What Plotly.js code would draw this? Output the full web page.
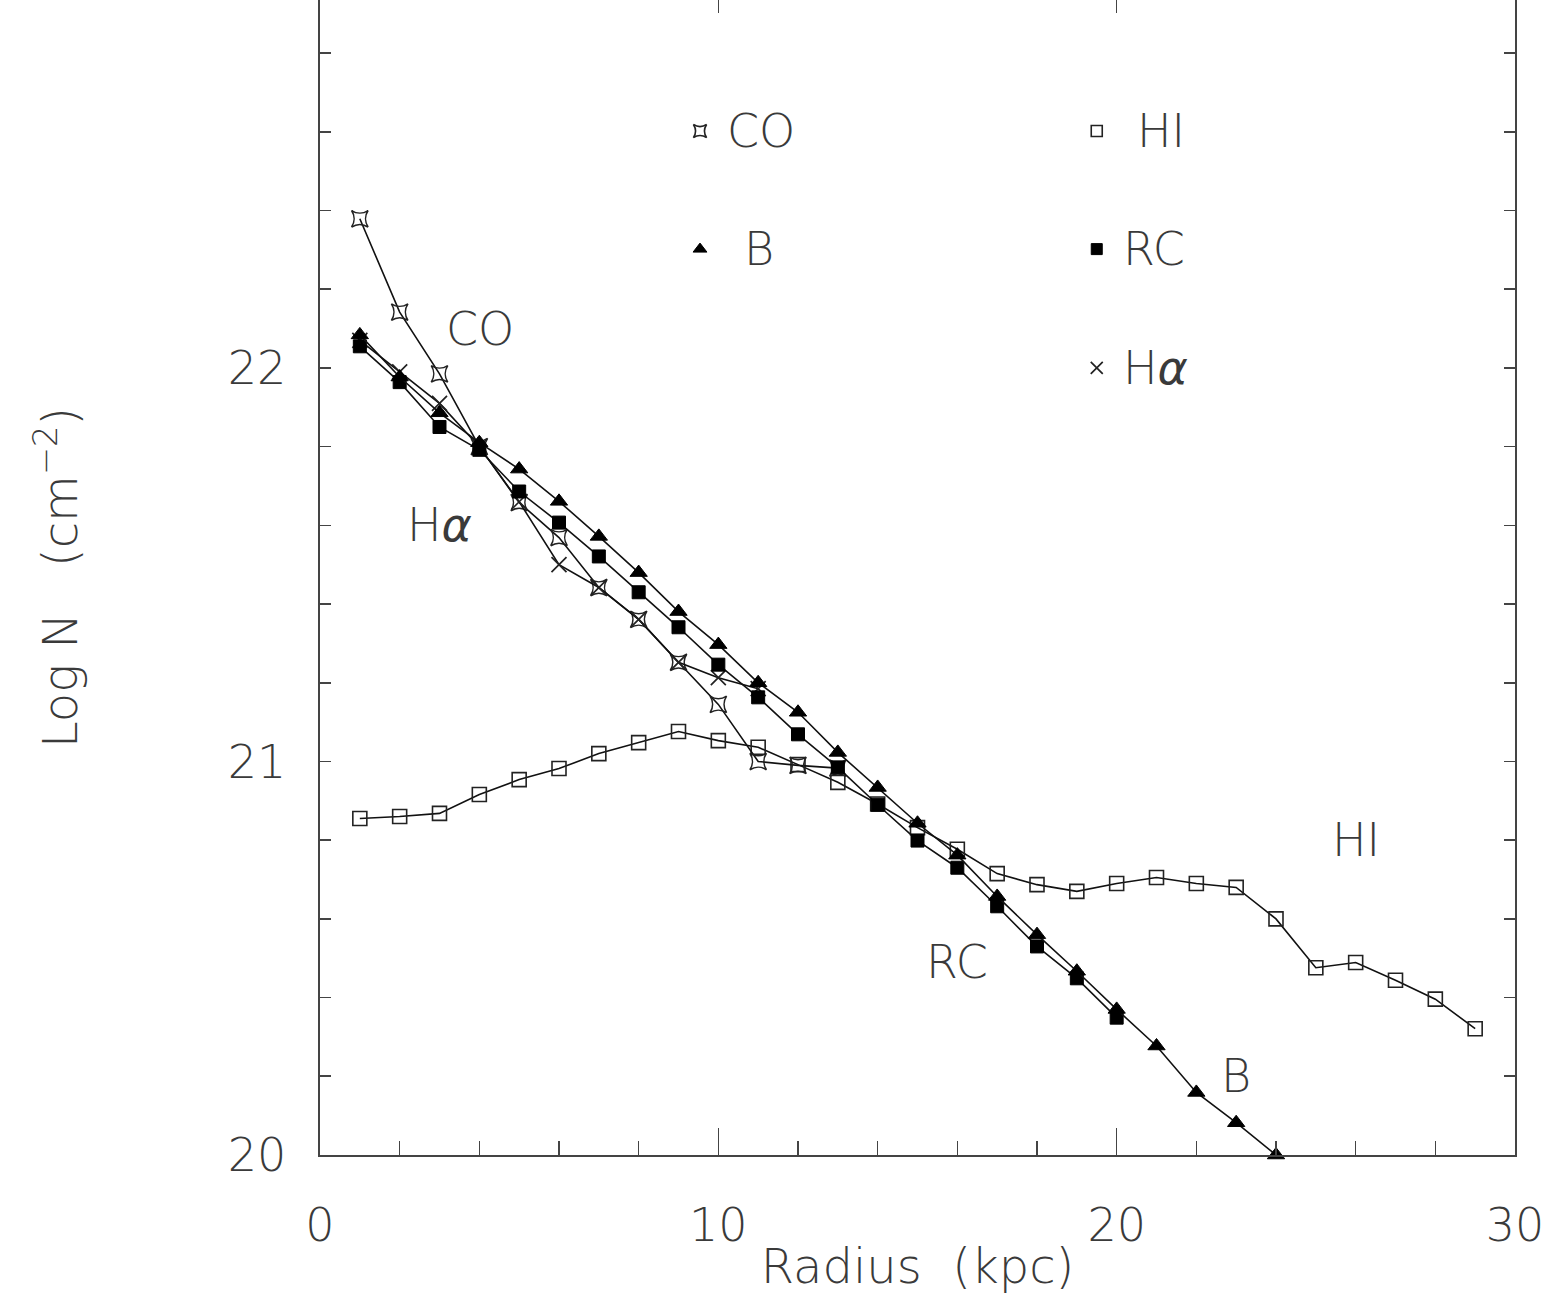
<!DOCTYPE html>
<html>
<head>
<meta charset="utf-8">
<script src="https://cdn.plot.ly/plotly-3.0.1.min.js"></script>
<style>html,body{margin:0;padding:0;background:#fff;}#chart{width:1550px;height:1294px;}</style>
</head>
<body>
<div id="chart"></div>
<script>
// ---- data ----
const radiusCO = [1,2,3,4,5,6,7,8,9,10,11,12,13];
const logNCO   = [22.379,22.142,21.985,21.800,21.658,21.569,21.442,21.361,21.252,21.145,21.000,20.990,20.983];

const radiusHa = [1,2,3,4,5,6,7,8,9,10,11];
const logNHa   = [22.070,21.990,21.910,21.800,21.660,21.500,21.442,21.361,21.252,21.213,21.185];

const radiusB = [1,2,3,4,5,6,7,8,9,10,11,12,13,14,15,16,17,18,19,20,21,22,23,24];
const logNB   = [22.084,21.977,21.886,21.810,21.743,21.661,21.572,21.480,21.381,21.297,21.200,21.125,21.023,20.934,20.843,20.762,20.657,20.560,20.467,20.370,20.277,20.159,20.082,20.000];

const radiusRC = [1,2,3,4,5,6,7,8,9,10,11,12,13,14,15,16,17,18,19,20];
const logNRC   = [22.055,21.964,21.850,21.792,21.686,21.607,21.521,21.430,21.341,21.246,21.163,21.069,20.985,20.890,20.799,20.730,20.632,20.530,20.449,20.349];

const radiusHI = [1,2,3,4,5,6,7,8,9,10,11,12,13,14,15,16,17,18,19,20,21,22,23,24,25,26,27,28,29];
const logNHI   = [20.855,20.860,20.868,20.916,20.954,20.982,21.020,21.048,21.076,21.053,21.036,20.992,20.947,20.892,20.832,20.777,20.715,20.687,20.670,20.690,20.705,20.690,20.680,20.600,20.476,20.489,20.444,20.396,20.321];

const seriesNames = ['CO','B','HI','RC','H<i>α</i>'];
const xTickVals = [0,10,20,30];
const yTickVals = [20,21,22];

// ---- styles / layout config ----
const FONT = {family:'DejaVu Sans, Liberation Sans, sans-serif', size:46, color:'#3a3a3a', weight:300};
const TITLEFONT = Object.assign({}, FONT, {size:48});
const lineStyle = {color:'#111', width:1.6};
const symbols = {
  CO:{symbol:'star-square-open', size:15, line:{color:'#222', width:1.6}},
  Ha:{symbol:'x-thin-open', size:15, line:{color:'#222', width:1.7}},
  B:{symbol:'triangle-up', size:15, color:'#000', line:{color:'#000', width:1}},
  RC:{symbol:'square', size:13, color:'#000', line:{color:'#000', width:1}},
  HI:{symbol:'square-open', size:14, color:'#222', line:{color:'#222', width:1.6}}
};
function withColor(m){ const o = Object.assign({}, m); if(!o.color) o.color = o.line.color; return o; }

function series(x, y, key){
  return {x:x, y:y, type:'scatter', mode:'lines+markers', line:lineStyle,
          marker:withColor(symbols[key]), showlegend:false, hoverinfo:'skip', cliponaxis:false};
}

const traces = [
  series(radiusHI, logNHI, 'HI'),
  series(radiusCO, logNCO, 'CO'),
  series(radiusHa, logNHa, 'Ha'),
  series(radiusRC, logNRC, 'RC'),
  series(radiusB,  logNB,  'B')
];

// legend keys (positions in data coordinates)
const legendCols = [9.54, 19.5];
const legendRows = [22.602, 22.302, 22.0];
const legendItems = [
  {key:'CO', name:seriesNames[0], col:0, row:0, dx:0.62},
  {key:'B',  name:seriesNames[1], col:0, row:1, dx:1.05},
  {key:'HI', name:seriesNames[2], col:1, row:0, dx:0.95},
  {key:'RC', name:seriesNames[3], col:1, row:1, dx:0.62},
  {key:'Ha', name:seriesNames[4], col:1, row:2, dx:0.62}
];
const legendScale = 0.82;
const annotations = [];
legendItems.forEach(it => {
  const m = withColor(symbols[it.key]);
  m.size = Math.round(m.size*legendScale);
  traces.push({x:[legendCols[it.col]], y:[legendRows[it.row]], type:'scatter', mode:'markers',
               marker:m, showlegend:false, hoverinfo:'skip'});
  annotations.push({x:legendCols[it.col]+it.dx, y:legendRows[it.row], xref:'x', yref:'y',
                    text:it.name, showarrow:false, xanchor:'left', yanchor:'middle', font:FONT});
});

// curve labels
const curveLabels = [
  {text:'CO', x:4.02, y:22.10},
  {text:'H<i>α</i>', x:3.0, y:21.60},
  {text:'RC', x:16.0, y:20.49},
  {text:'B', x:23.0, y:20.20},
  {text:'HI', x:26.0, y:20.80}
];
curveLabels.forEach(c => annotations.push({x:c.x, y:c.y, xref:'x', yref:'y', text:c.text,
  showarrow:false, xanchor:'center', yanchor:'middle', font:FONT}));

// dummy trace for the top axis
traces.push({x:[15], y:[21], xaxis:'x2', yaxis:'y', type:'scatter', mode:'markers',
             marker:{opacity:0}, showlegend:false, hoverinfo:'skip'});

const AX = '#444';
const layout = {
  width:1550, height:1294,
  margin:{l:320, r:35, t:0, b:139},
  paper_bgcolor:'#fff', plot_bgcolor:'#fff',
  showlegend:false,
  font:FONT,
  xaxis:{range:[0,30], tickvals:xTickVals, ticktext:xTickVals.map(String),
         ticks:'inside', ticklen:27, tickwidth:1.6, tickcolor:AX,
         minor:{dtick:2, tick0:0, ticks:'inside', ticklen:14, tickwidth:1.6, tickcolor:AX},
         showline:true, linecolor:AX, linewidth:2.4, mirror:false,
         showgrid:false, zeroline:false, tickfont:FONT, ticklabelstandoff:28,
         title:{text:'Radius  (kpc)', font:TITLEFONT, standoff:10}},
  xaxis2:{overlaying:'x', side:'top', range:[0,30], tickvals:[10,20], ticks:'inside',
          ticklen:13, tickwidth:1.6, tickcolor:AX, showticklabels:false,
          showline:false, showgrid:false, zeroline:false},
  yaxis:{range:[20,22.935], tickvals:yTickVals, ticktext:yTickVals.map(String),
         ticks:'inside', ticklen:11, tickwidth:1.6, tickcolor:AX,
         minor:{dtick:0.2, tick0:20, ticks:'inside', ticklen:11, tickwidth:1.6, tickcolor:AX},
         showline:true, linecolor:AX, linewidth:2.4, mirror:'allticks',
         showgrid:false, zeroline:false, tickfont:FONT, ticklabelstandoff:22,
         title:{text:'Log N   (cm<sup>−2</sup>)', font:TITLEFONT, standoff:135}},
  annotations:annotations
};

Plotly.newPlot('chart', traces, layout, {staticPlot:true, displayModeBar:false});
</script>
</body>
</html>
